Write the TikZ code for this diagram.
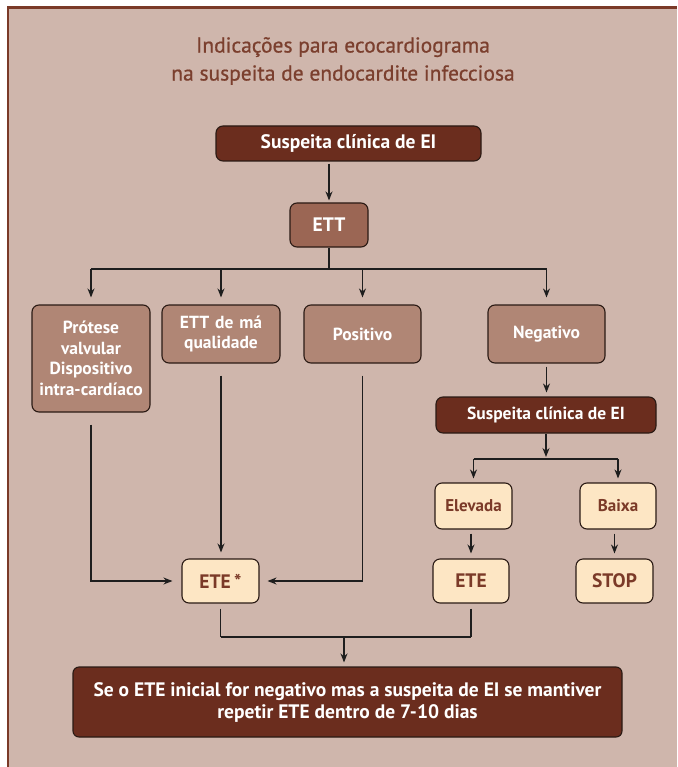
\documentclass[tikz,border=0pt]{standalone}
\usepackage{fontspec}
\setmainfont{PT Sans}
\newfontfamily\titlefont{PT Sans}[FakeBold=0.7]
\usetikzlibrary{arrows.meta}
\definecolor{bg}{HTML}{CFB6AC}
\definecolor{frame}{HTML}{7A3A28}
\definecolor{darkb}{HTML}{6B2D1E}
\definecolor{ettc}{HTML}{9B6654}
\definecolor{midb}{HTML}{B08675}
\definecolor{lightb}{HTML}{FDE6C4}
\definecolor{lighttext}{HTML}{7B3A28}
\definecolor{titlec}{HTML}{7B3F2E}
\definecolor{boxline}{HTML}{2A1A14}
\definecolor{conn}{HTML}{1E1E1E}
\newcommand\fsBig{\fontsize{19.5}{23}\selectfont}
\newcommand\fsMid{\fontsize{17.5}{20.5}\selectfont}
\newcommand\fsSmall{\fontsize{17}{20}\selectfont}
\begin{document}
\begin{tikzpicture}[x=1pt,y=-1pt,
  box/.style={draw=boxline, line width=1.1pt, rounded corners=7pt, inner sep=0pt, align=center, font=\bfseries},
  darkbox/.style={box, fill=darkb, text=white},
  ettbox/.style={box, fill=ettc, text=white},
  midbox/.style={box, fill=midb, text=white},
  lightbox/.style={box, fill=lightb, text=lighttext},
  plain/.style={draw=conn, line width=1.2pt},
  arr/.style={plain, -{Stealth[length=9pt,width=7pt]}}]
\useasboundingbox (0,0) rectangle (677,767);
\fill[bg] (8,8) rectangle (677,767);
\draw[frame, line width=2.6pt] (8,767) -- (8,7.5) -- (677,7.5);

\node[text=titlec, align=center, font=\titlefont\fontsize{21.5}{28}\selectfont] (title) at (343,61)
  {Indicações para ecocardiograma\\na suspeita de endocardite infecciosa};

\node[darkbox, minimum width=265pt, minimum height=35pt, font=\bfseries\fsBig] (s1) at (348.5,143.5) {Suspeita clínica de EI};
\node[ettbox, minimum width=78pt, minimum height=44pt, font=\bfseries\fsBig] (ett) at (329,225) {ETT};

\node[midbox, minimum width=118pt, minimum height=107pt, text width=118pt, font=\bfseries\fsMid] (p1) at (91,358.5) {Prótese\\valvular\\Dispositivo\\intra-cardíaco};
\node[midbox, minimum width=118pt, minimum height=58pt, text width=118pt, font=\bfseries\fsMid] (p2) at (221,334) {ETT de má\\qualidade};
\node[midbox, minimum width=117pt, minimum height=58pt, font=\bfseries\fsMid] (p3) at (362.5,334) {Positivo};
\node[midbox, minimum width=117pt, minimum height=58pt, font=\bfseries\fsMid] (p4) at (546.5,334) {Negativo};

\node[darkbox, minimum width=220pt, minimum height=36pt, font=\bfseries\fsMid] (s2) at (546,415) {Suspeita clínica de EI};

\node[lightbox, minimum width=77pt, minimum height=46pt, font=\bfseries\fsSmall] (el) at (473.5,506) {Elevada};
\node[lightbox, minimum width=76pt, minimum height=46pt, font=\bfseries\fsSmall] (bx) at (618,506) {Baixa};

\node[lightbox, minimum width=77pt, minimum height=44pt, font=\bfseries\fsBig] (ete1) at (220.5,581) {ETE\,*};
\node[lightbox, minimum width=76pt, minimum height=44pt, font=\bfseries\fsBig] (ete2) at (471,581) {ETE};
\node[lightbox, minimum width=77pt, minimum height=44pt, font=\bfseries\fsBig] (stop) at (614.5,581) {STOP};

\node[darkbox, minimum width=549pt, minimum height=70pt, rounded corners=6pt, font=\bfseries\fontsize{19.5}{22}\selectfont] (fin) at (347.5,702)
  {Se o ETE inicial for negativo mas a suspeita de EI se mantiver\\repetir ETE dentro de 7-10 dias};

\coordinate (b1) at (0,269);
\coordinate (b2) at (0,459);
\coordinate (b4) at (0,637);
\coordinate (j) at (344,637);

\draw[arr, shorten <=2pt, shorten >=2pt] (ett.north |- s1.south) -- (ett.north);
\draw[plain] (ett.south) -- (ett.south |- b1);
\draw[plain] (p1.north |- b1) -- (p4.north |- b1);
\foreach \n in {p1,p2,p3,p4} \draw[arr, shorten >=7pt] (\n.north |- b1) -- (\n.north);

\draw[arr, shorten <=12pt, shorten >=9pt] (p1.south) |- (ete1.west);
\draw[arr, shorten <=12pt, shorten >=6pt] (p2.south) -- (p2.south |- ete1.north);
\draw[arr, shorten <=12pt, shorten >=8pt] (p3.south) |- (ete1.east);

\draw[arr, shorten <=3pt, shorten >=4pt] (p4.south) -- (p4.south |- s2.north);
\draw[arr, shorten >=2pt] (s2.south) -- (s2.south |- b2);
\draw[plain] (el.north |- b2) -- (bx.north |- b2);
\draw[arr, shorten >=4pt] (el.north |- b2) -- (el.north);
\draw[arr, shorten >=4pt] (bx.north |- b2) -- (bx.north);

\draw[arr, shorten <=4pt, shorten >=5pt] (ete2.north |- el.south) -- (ete2.north);
\draw[arr, shorten <=4pt, shorten >=5pt] (stop.north |- bx.south) -- (stop.north);

\draw[plain, shorten <=5pt] (ete1.south) -- (ete1.south |- b4);
\draw[plain, shorten <=5pt] (ete2.south) -- (ete2.south |- b4);
\draw[plain] (ete1.south |- b4) -- (ete2.south |- b4);
\draw[arr, shorten >=4pt] (j) -- (j |- fin.north);
\end{tikzpicture}
\end{document}
